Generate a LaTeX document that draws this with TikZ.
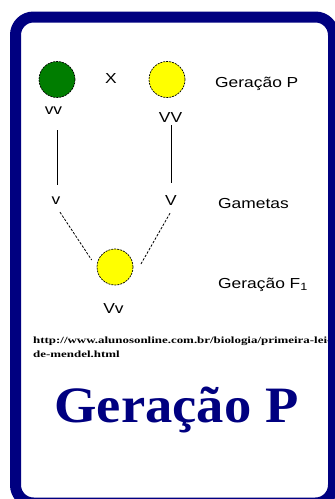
\documentclass[tikz,border=0pt]{standalone}
\usepackage{fontspec}
\setmainfont{Liberation Serif}
\newfontfamily\lblfont{Liberation Sans}
\definecolor{navyblue}{RGB}{0,0,128}
\definecolor{peagreen}{RGB}{0,125,0}
\definecolor{peayellow}{RGB}{255,255,0}
\newcommand\wlbl[1]{\scalebox{1.2}[1]{#1}}
\begin{document}
\begin{tikzpicture}[x=1pt,y=-1pt,
  lbl/.style={inner sep=0pt, font=\lblfont\fontsize{14.5}{16}\selectfont},
  pea/.style={circle, minimum size=36pt, inner sep=0pt, draw=black, line width=0.7pt, dash pattern=on 2pt off 1pt},
  link/.style={line width=0.8pt, black},
  dlink/.style={line width=0.8pt, black, dash pattern=on 2.5pt off 1.5pt},
  urltext/.style={inner sep=0pt, anchor=base west, font=\bfseries\fontsize{9.5}{10}\selectfont}]
\useasboundingbox (0,0) rectangle (335,499);
\clip (0,0) rectangle (335,499);
\fill[white] (0,0) rectangle (335,499);

% parents
\node[pea, fill=peagreen] (g) at (57,79.5) {};
\node[lbl, anchor=base] (x) at (111,83) {\wlbl{X}};
\node[pea, fill=peayellow] (y) at (167,79.5) {};
\node[lbl, anchor=base west] (genp) at (215,87) {\wlbl{Geração P}};
\node[lbl, anchor=base] (vv) at (53.5,114.5) {\wlbl{vv}};
\node[lbl, anchor=base] (VV) at (170.5,122) {\wlbl{VV}};

% gametes
\node[lbl, anchor=base] (v) at (56,204) {\wlbl{v}};
\node[lbl, anchor=base] (V) at (171,205) {\wlbl{V}};
\node[lbl, anchor=base west] (gam) at (218,208) {\wlbl{Gametas}};

% F1
\node[pea, fill=peayellow] (f1) at (115,267) {};
\node[lbl, anchor=base west] (genf) at (218,288) {\wlbl{Geração F\raisebox{-2.5pt}{\fontsize{10.5}{11}\selectfont 1}}};
\node[lbl, anchor=base] (Vv) at (113.5,313) {\wlbl{Vv}};

% connectors
\draw[link, shorten <=15.5pt, shorten >=11.5pt] (vv.south -| g.center) -- (v.north -| g.center);
\draw[link, shorten <=3pt, shorten >=11.5pt] (VV.south -| V.center) -- (V.north);
\draw[dlink] ([shift={(4pt,-8pt)}]v.south) -- ([shift={(-5pt,7pt)}]f1.west);
\draw[dlink] ([shift={(-1pt,-8pt)}]V.south) -- ([shift={(7pt,2pt)}]f1.east);

% source
\node[urltext] (url1) at (33,343) {\scalebox{1.36}[1]{http://www.alunosonline.com.br/biologia/primeira-lei-}};
\node[urltext] (url2) at (33,357) {\scalebox{1.36}[1]{de-mendel.html}};

% title
\node[anchor=base, inner sep=0pt, text=navyblue, font=\bfseries\fontsize{51}{51}\selectfont] (title) at (176.5,422) {\scalebox{1.07}[1]{Geração P}};

% frame
\draw[navyblue, line width=11pt, rounded corners=18pt] (15.5,17) rectangle (333.5,503);
\end{tikzpicture}
\end{document}
